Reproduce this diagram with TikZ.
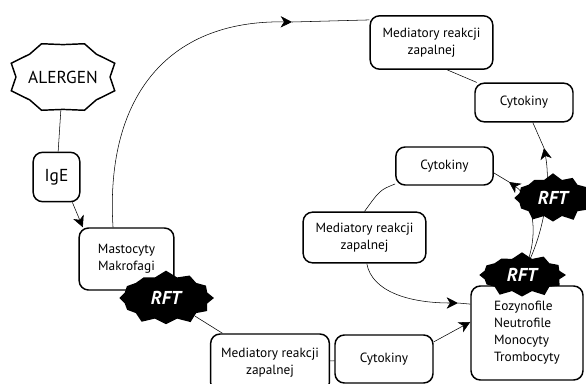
\documentclass[tikz,border=0pt]{standalone}
\usepackage{fontspec}
\setmainfont{PT Sans}
\usetikzlibrary{shapes.symbols, arrows.meta}
\pgfdeclarelayer{bg}
\pgfsetlayers{bg,main}

\tikzset{
  boxStyle/.style={draw, rounded corners=7pt, align=center, inner sep=2pt,
    font=\fontsize{10}{12.75}\selectfont},
  rftStyle/.style={starburst, starburst points=12, starburst point height=5pt,
    random starburst=7, fill=black, inner sep=0pt, text=white,
    font=\fontsize{14}{14}\selectfont\bfseries\itshape},
  arrowStyle/.style={-{Stealth[length=8.5pt, width=8.5pt, inset=2.5pt]}}
}

\begin{document}
\begin{tikzpicture}[x=0.75pt, y=-0.75pt, line width=1.1pt]
  \useasboundingbox (0,0) rectangle (586,383);

  \node[minimum width=80pt, minimum height=47pt, inner sep=0pt,
    font=\fontsize{13}{15}\selectfont] (alergen) at (63,77) {ALERGEN};
  \draw[shift={(alergen.center)}] plot[samples at={0,22.5,...,337.5}, variable=\t]
    ({56*(0.92+0.08*cos(8*\t-180))*cos(\t)}, {36*(0.95+0.05*cos(8*\t-180))*sin(\t)}) -- cycle;
  \node[boxStyle, minimum width=35pt, minimum height=37pt,
    font=\fontsize{13}{15}\selectfont] (ige) at (56.5,177) {IgE};
  \node[boxStyle, minimum width=71pt, minimum height=46.5pt] (mast) at (126.5,259) {Mastocyty\\Makrofagi};
  \node[boxStyle, minimum width=92pt, minimum height=40pt] (medtop) at (431.5,42.5) {Mediatory reakcji\\zapalnej};
  \node[boxStyle, minimum width=73.5pt, minimum height=29pt] (cyttop) at (524,102.5) {Cytokiny};
  \node[boxStyle, minimum width=73pt, minimum height=28.5pt] (cytmid) at (444.5,166) {Cytokiny};
  \node[boxStyle, minimum width=92pt, minimum height=38pt] (medmid) at (364.5,237.5) {Mediatory reakcji\\zapalnej};
  \node[boxStyle, minimum width=84pt, minimum height=70.5pt, align=left] (cells) at (527,333) {Eozynofile\\Neutrofile\\Monocyty\\Trombocyty};
  \node[boxStyle, minimum width=89pt, minimum height=43.5pt] (medbot) at (270,363) {Mediatory reakcji\\zapalnej};
  \node[boxStyle, minimum width=73.5pt, minimum height=36pt] (cytbot) at (384,359) {Cytokiny};

  \node[rftStyle, minimum width=74pt, minimum height=42pt] (rft1) at (166,298) {RFT};
  \node[rftStyle, minimum width=62pt, minimum height=38pt] (rft2) at (553,198) {RFT};
  \node[rftStyle, minimum width=68pt, minimum height=35pt] (rft3) at (522,275) {RFT};

  \coordinate (a1) at (292,22);
  \coordinate (a2) at (544,148);
  \coordinate (a3) at (509,182);
  \coordinate (a4) at (458,303);

  \begin{pgfonlayer}{bg}
  \draw (alergen) -- (ige);
  \draw[arrowStyle] (ige.-58) -- (mast.144);
  % big loop to the top
  \draw[arrowStyle] (mast.113) .. controls (105,100) and (165,20) .. (a1);
  \draw (a1) -- (medtop.160);
  \draw (medtop.-60) -- (cyttop);
  \draw[arrowStyle] (rft3.center) .. controls (545,235) and (551,185) .. (a2);
  \draw (a2) -- (cyttop);
  \draw[arrowStyle] (rft3.center) .. controls (540,240) and (535,200) .. (a3);
  \draw (a3) -- (cytmid.-8);
  % inner loop
  \draw (cytmid.200) .. controls (380,190) .. (medmid.north);
  \draw[arrowStyle] (medmid.-85) .. controls (372,292) and (410,303) .. (a4);
  \draw (a4) -- (cells.153);
  % bottom row
  \draw (rft1) -- (medbot);
  \draw (medbot) -- (cytbot);
  \draw[arrowStyle] (cytbot.19) -- (cells.169);
  \end{pgfonlayer}
\end{tikzpicture}
\end{document}
